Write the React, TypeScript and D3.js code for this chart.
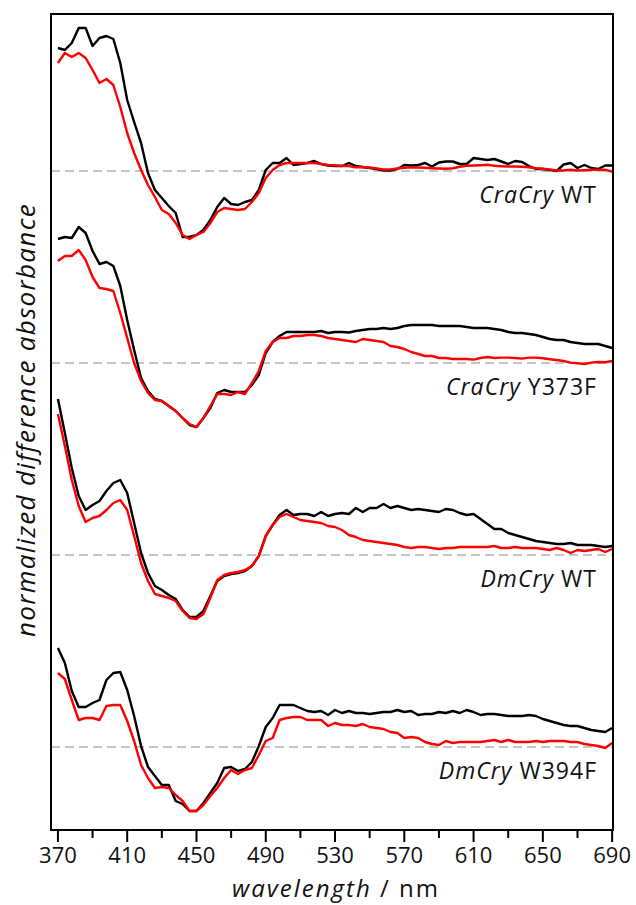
import React from "react";
import * as d3 from "d3";

// wavelength grid (nm), 4 nm steps from 370 to 690
const wavelengths: number[] = d3.range(370, 691, 4);

// x-axis ticks
const majorTicks = [370, 410, 450, 490, 530, 570, 610, 650, 690];
const minorTicks = [390, 430, 470, 510, 550, 590, 630, 670];

// difference absorbance (arbitrary units, dip ~ -64)
const craWTBlack = [
  123, 121, 128, 143, 143, 125, 133, 135, 132, 108,
  71, 49, 28, -2, -19, -27, -35, -42, -66, -66,
  -64, -59, -49, -36, -27, -33, -34, -31, -29, -19,
  1, 8, 8, 13, 6, 7, 8, 10, 7, 5.5,
  5, 5, 8, 5, 4, 3, 2, 0.5, 0.5, 2,
  6, 5.5, 6, 8, 4.5, 8.5, 9.5, 9.5, 7, 7,
  13, 12, 11, 12, 9.5, 7, 10, 9, 5, 2,
  2, 1, 0, 6.5, 8, 3, 6, 3, 2, 5.5,
  5.5,
];
const craWTRed = [
  108, 118, 114, 118, 113, 101, 88, 92, 86, 64,
  38, 18, 1, -14, -26, -39, -43, -52, -64, -68,
  -64, -61, -52, -41, -37, -38, -39, -38, -31, -22,
  -7, 1, 6, 8, 8, 8, 8, 8, 7, 6,
  5.7, 5, 5, 3.8, 3.8, 3.5, 2.5, 1.5, 1.5, 2.5,
  3.2, 3.8, 3.5, 3.2, 2.8, 2.5, 2.2, 2.8, 4.2, 5.2,
  5.5, 5.8, 6.2, 5.2, 4.8, 4.5, 4.5, 4.2, 3.8, 2.8,
  2.2, 1.5, 0.5, 0.5, 1.2, 0.5, 0.8, 1.2, 1.2, 1.2,
  -0.5,
];
const craY373FBlack = [
  124, 126, 125, 136, 130, 112, 99, 101, 97, 77,
  43, 13, -15, -28, -36, -38, -43, -48, -55, -62,
  -64, -55, -45, -30, -27, -29, -29, -29, -22, -12,
  10, 21, 27, 31, 31, 31, 31, 31, 32, 30,
  31, 31, 30.5, 32, 33, 34, 34, 35, 34, 35,
  37, 38, 38, 38, 38, 37, 37, 37, 37, 36,
  35, 35, 35, 34, 33, 31, 30, 30, 29, 28,
  26, 24, 23, 23, 21, 20, 19, 19, 19, 17,
  15,
];
const craY373FRed = [
  102, 107, 107, 113, 103, 86, 75, 74, 72, 50,
  25, 0, -18, -30, -37, -38, -43, -48, -55, -61,
  -64, -55, -43, -31, -31, -32, -29, -31, -20, -8,
  12, 21, 25, 25, 27, 27, 28, 28, 27, 25,
  24, 23, 22, 21, 24, 23, 22, 21, 17, 16,
  14, 11, 9, 7, 7, 5, 5, 4, 4, 4,
  3.4, 5, 6, 5, 5.4, 5.4, 5, 4.4, 5.4, 5.4,
  4.7, 3.7, 3, 2, 0.4, -0.3, -1, 0.4, 1, 0.7,
  2,
];
const dmWTBlack = [
  156, 122, 87, 59, 45, 50, 54, 64, 72, 75,
  62, 32, 2, -18, -31, -35, -40, -44, -55, -62,
  -62, -56, -41, -26, -21, -19, -18, -16, -11, -1,
  19, 30, 40, 45, 40, 41, 41, 39, 43, 39,
  41, 42, 41, 47, 43, 47, 47, 51, 47, 49,
  47, 45, 46, 45, 44, 43, 46, 45, 42, 40,
  41, 36, 31, 26, 26, 22, 20, 18, 16, 14,
  13, 12, 11, 11, 12, 10, 10, 10, 9, 8,
  9,
];
const dmWTRed = [
  141, 109, 75, 49, 33, 37, 39, 45, 52, 55,
  45, 19, -8, -26, -39, -41, -43, -46, -56, -63,
  -64, -59, -43, -25, -20, -18, -17, -15, -11, -1,
  19, 30, 38, 41, 38, 35, 34, 33, 32, 29,
  28, 25, 20, 18, 15, 14, 13, 12, 11, 10,
  8, 7, 8, 8, 7, 6, 7, 7, 8, 8,
  8, 8, 8, 9, 7, 7, 8, 7, 7, 7,
  6, 5, 7, 5, 2, 5, 4, 5, 6, 3,
  6,
];
const dmW394FBlack = [
  99, 84, 56, 40, 40, 44, 47, 67, 74, 75,
  57, 31, 1, -20, -29, -38, -38, -54, -57, -64,
  -64, -56, -46, -36, -21, -20, -24, -22, -15, 1,
  20, 29, 42, 42, 42, 39, 36, 35, 36, 32,
  37, 34, 36, 34, 34, 33, 34, 35, 35, 37,
  35, 36, 32, 33, 33, 35, 34, 36, 34, 37,
  35, 32, 33, 33, 32, 31, 31, 31, 32, 31,
  28, 26, 24, 22, 21, 21, 19, 17, 16, 15,
  19,
];
const dmW394FRed = [
  74, 68, 47, 27, 29, 29, 27, 41, 42, 42,
  26, 6, -18, -31, -41, -40, -41, -48, -54, -64,
  -64, -58, -49, -41, -31, -23, -27, -23, -21, -8,
  6, 9, 27, 29, 30, 30, 27, 27, 27, 21,
  24, 22, 22, 21, 23, 20, 19, 18, 15, 14,
  9, 10, 9, 5, 3, 2, 6, 4, 5, 5,
  5, 5, 6, 7, 5, 7, 5, 5, 5, 6,
  5, 6, 6, 6, 5, 5, 3, 2, 1, -1,
  4,
];

const panelNames = ["CraCry", "CraCry", "DmCry", "DmCry"];
const panelVariants = ["WT", "Y373F", "WT", "W394F"];
const panelOffsets = [0, 192, 384, 576];
const blackSeries = [craWTBlack, craY373FBlack, dmWTBlack, dmW394FBlack];
const redSeries = [craWTRed, craY373FRed, dmWTRed, dmW394FRed];

const W = 636;
const H = 905;
const left = 51;
const right = 613;
const top = 14;
const bottom = 830;
const FONT = "'Open Sans', 'DejaVu Sans', sans-serif";

export default function App() {
  const x = d3.scaleLinear().domain([366, 690.5]).range([left, right]);
  const y = d3.scaleLinear().domain([-659, 157]).range([bottom, top]);

  const makeLine = (offset: number) =>
    d3
      .line<number>()
      .x((_, i) => x(wavelengths[i]))
      .y((d) => y(d - offset));

  return (
    <svg
      width={W}
      height={H}
      style={{ position: "absolute", left: 0, top: 0, background: "#fff" }}
      fontFamily={FONT}
      fontWeight={400}
    >
      <rect x={0} y={0} width={W} height={H} fill="#fff" />
      {panelOffsets.map((off, p) => (
        <g key={p}>
          <line
            x1={left}
            x2={right}
            y1={y(-off)}
            y2={y(-off)}
            stroke="#b3b3b3"
            strokeWidth={1.3}
            strokeDasharray="9,5"
          />
          <path
            d={makeLine(off)(blackSeries[p]) || ""}
            fill="none"
            stroke="#000"
            strokeWidth={2.4}
            strokeLinejoin="round"
          />
          <path
            d={makeLine(off)(redSeries[p]) || ""}
            fill="none"
            stroke="#ff0000"
            strokeWidth={2.4}
            strokeLinejoin="round"
          />
          <text
            x={597}
            y={y(-off) + 32}
            textAnchor="end"
            fontSize={23}
            letterSpacing={1}
            fill="#111"
          >
            <tspan fontStyle="italic">{panelNames[p]}</tspan>
            <tspan> {panelVariants[p]}</tspan>
          </text>
        </g>
      ))}
      <rect
        x={left}
        y={top}
        width={right - left}
        height={bottom - top}
        fill="none"
        stroke="#000"
        strokeWidth={2}
      />
      {majorTicks.map((t) => (
        <g key={"M" + t}>
          <line x1={x(t)} x2={x(t)} y1={bottom} y2={bottom + 12} stroke="#000" strokeWidth={2} />
          <text x={x(t)} y={863} textAnchor="middle" fontSize={22} fill="#111">
            {t}
          </text>
        </g>
      ))}
      {minorTicks.map((t) => (
        <line key={"m" + t} x1={x(t)} x2={x(t)} y1={bottom} y2={bottom + 8} stroke="#000" strokeWidth={2} />
      ))}
      <text x={336} y={897} textAnchor="middle" fontSize={24} letterSpacing={2} fill="#111">
        <tspan fontStyle="italic">wavelength</tspan>
        <tspan> / nm</tspan>
      </text>
      <text
        transform={`translate(35, 420) rotate(-90)`}
        textAnchor="middle"
        fontSize={26}
        letterSpacing={1.3}
        fontStyle="italic"
        fill="#111"
      >
        normalized difference absorbance
      </text>
    </svg>
  );
}
